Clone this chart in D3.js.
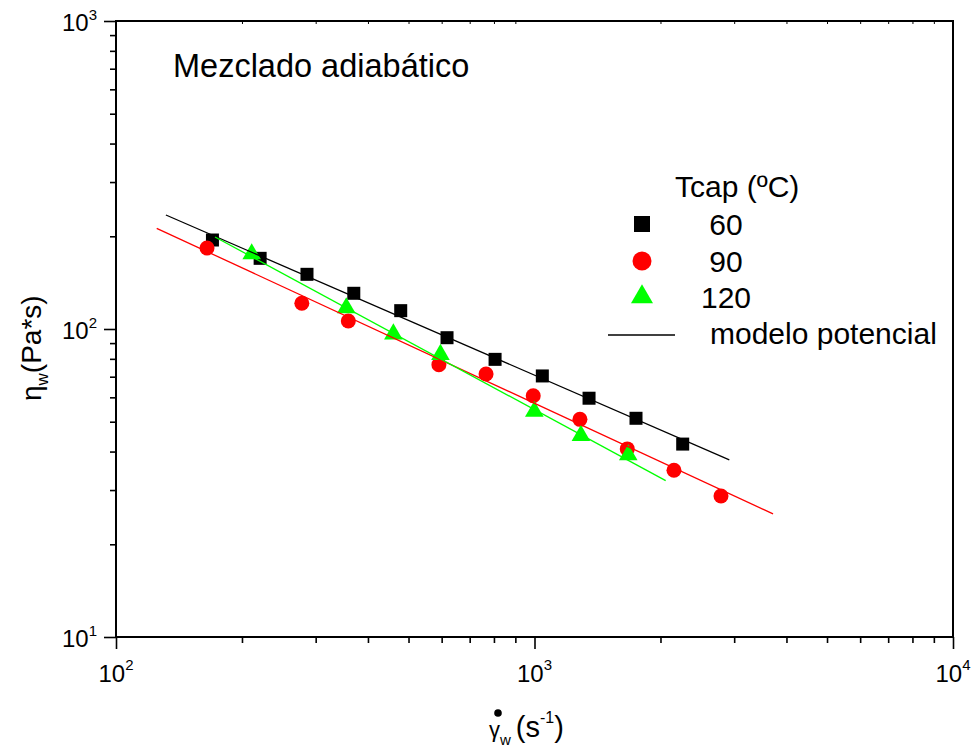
<html>
<head>
<meta charset="utf-8" />
<script src="https://d3js.org/d3.v7.min.js"></script>
<style>
  body { margin: 0; background: #fff; }
  text { font-family: "Liberation Sans", Arial, sans-serif; fill: #000; }
</style>
</head>
<body>
<svg id="chart" width="973" height="749"></svg>
<script>
// series (shear rate s^-1, viscosity Pa*s)
let x60 = [170, 221, 286, 370, 479, 618, 805, 1044, 1350, 1748, 2260]
let y60 = [194.5, 169.6, 150.5, 130.6, 114.7, 93.7, 79.7, 70.4, 59.6, 51.3, 42.3]
let x90 = [165, 278, 359, 591, 766, 993, 1284, 1666, 2154, 2790]
let y90 = [183.2, 121.2, 106.2, 76.6, 71.4, 60.7, 50.9, 40.8, 34.8, 28.7]
let x120 = [211, 355, 460, 596, 999, 1291, 1675]
let y120 = [175.2, 117, 96.3, 82.6, 54, 45.1, 39]
// power model lines, end points
let fit60 = [[131.6, 234.5], [2921, 37.6]]
let fit90 = [[125.1, 212.3], [3715, 25.1]]
let fit120 = [[172.4, 199], [2058, 32.2]]
let xDecades = [100, 1000, 10000]
let yDecades = [10, 100, 1000]
let legendLabels = ["60", "90", "120"]

let svg = d3.select("#chart")
let mLeft = 116, mRight = 953, mTop = 21, mBottom = 637
let x = d3.scaleLog().domain([100, 10000]).range([mLeft, mRight])
let y = d3.scaleLog().domain([10, 1000]).range([mBottom, mTop])

let minorX = x.ticks().filter(d => !xDecades.includes(d))
let minorY = y.ticks().filter(d => !yDecades.includes(d))

// axes
let gx = svg.append("g").attr("transform", `translate(0,${mBottom})`)
gx.call(d3.axisBottom(x).tickValues(xDecades).tickSize(12).tickFormat(""))
let gxm = svg.append("g").attr("transform", `translate(0,${mBottom})`)
gxm.call(d3.axisBottom(x).tickValues(minorX).tickSize(6).tickFormat(""))
let gy = svg.append("g").attr("transform", `translate(${mLeft},0)`)
gy.call(d3.axisLeft(y).tickValues(yDecades).tickSize(12).tickFormat(""))
let gym = svg.append("g").attr("transform", `translate(${mLeft},0)`)
gym.call(d3.axisLeft(y).tickValues(minorY).tickSize(6).tickFormat(""))
let gt = svg.append("g").attr("transform", `translate(0,${mTop})`)
gt.call(d3.axisBottom(x).tickValues(minorX).tickSize(3).tickFormat(""))
svg.selectAll(".domain").remove()
svg.selectAll(".tick line").attr("stroke", "#000").attr("stroke-width", 1.6)
gt.selectAll(".tick line").attr("stroke-width", 1)

svg.append("rect")
    .attr("x", mLeft).attr("y", mTop)
    .attr("width", mRight - mLeft).attr("height", mBottom - mTop)
    .attr("fill", "none").attr("stroke", "#000").attr("stroke-width", 2)

// tick labels
let xl = svg.selectAll(".xl").data(xDecades).enter().append("text")
    .attr("x", d => x(d)).attr("y", 682)
    .attr("text-anchor", "middle").style("font-size", "24px")
xl.append("tspan").text("10")
xl.append("tspan").attr("dy", -12).style("font-size", "15px").text(d => Math.log10(d))

let yl = svg.selectAll(".yl").data(yDecades).enter().append("text")
    .attr("x", 97).attr("y", d => y(d) + 10)
    .attr("text-anchor", "end").style("font-size", "24px")
yl.append("tspan").text("10")
yl.append("tspan").attr("dy", -11).style("font-size", "15px").text(d => Math.log10(d))

// axis titles
let xt = svg.append("text").attr("x", 489).attr("y", 737)
xt.append("tspan").style("font-size", "22px").text("γ")
xt.append("tspan").attr("dy", 8).style("font-size", "15px").text("w")
xt.append("tspan").attr("dx", 5).attr("dy", -8).style("font-size", "29px").text("(s")
xt.append("tspan").attr("dy", -14).style("font-size", "16px").text("-1")
xt.append("tspan").attr("dy", 14).style("font-size", "29px").text(")")
svg.append("circle").attr("cx", 498).attr("cy", 713).attr("r", 3.8).attr("fill", "#000")

let yt = svg.append("text").attr("transform", "translate(41,401) rotate(-90)")
yt.append("tspan").style("font-size", "28px").text("η")
yt.append("tspan").attr("dy", 7).style("font-size", "17px").text("w")
yt.append("tspan").attr("dy", -7).style("font-size", "28px").text("(Pa*s)")

svg.append("text").attr("x", 173).attr("y", 77).style("font-size", "32.5px").text("Mezclado adiabático")

// markers
svg.selectAll(".sq").data(d3.zip(x60, y60)).enter().append("rect")
    .attr("x", d => x(d[0]) - 6.5).attr("y", d => y(d[1]) - 6.5)
    .attr("width", 13).attr("height", 13).attr("fill", "#000")
svg.selectAll(".ci").data(d3.zip(x90, y90)).enter().append("circle")
    .attr("cx", d => x(d[0])).attr("cy", d => y(d[1])).attr("r", 7.5).attr("fill", "#ff0000")
let tri = d3.symbol().type(d3.symbolTriangle).size(150)
svg.selectAll(".tr").data(d3.zip(x120, y120)).enter().append("path")
    .attr("d", tri)
    .attr("transform", d => `translate(${x(d[0])},${y(d[1])})`)
    .attr("fill", "#00ff00")

// model lines
let line = d3.line().x(d => x(d[0])).y(d => y(d[1]))
let fits = [[fit60, "#000"], [fit90, "#ff0000"], [fit120, "#00ff00"]]
fits.forEach(f => {
    svg.append("path").attr("d", line(f[0])).attr("fill", "none")
        .attr("stroke", f[1]).attr("stroke-width", 1.3)
})

// legend
svg.append("text").attr("x", 675).attr("y", 197).style("font-size", "30px").text("Tcap (ºC)")
let ly = [224, 261, 297]
svg.append("rect").attr("x", 634).attr("y", ly[0] - 8).attr("width", 16).attr("height", 16).attr("fill", "#000")
svg.append("circle").attr("cx", 642).attr("cy", ly[1]).attr("r", 9.5).attr("fill", "#ff0000")
svg.append("path").attr("d", d3.symbol().type(d3.symbolTriangle).size(210))
    .attr("transform", `translate(642,${ly[2]})`).attr("fill", "#00ff00")
svg.selectAll(".ll").data(legendLabels).enter().append("text")
    .attr("x", 726).attr("y", (d, i) => ly[i] + 11)
    .attr("text-anchor", "middle").style("font-size", "30px").text(d => d)
svg.append("line").attr("x1", 608).attr("x2", 675).attr("y1", 335).attr("y2", 335)
    .attr("stroke", "#000").attr("stroke-width", 1.3)
svg.append("text").attr("x", 710).attr("y", 344).style("font-size", "30px").text("modelo potencial")
</script>
</body>
</html>
